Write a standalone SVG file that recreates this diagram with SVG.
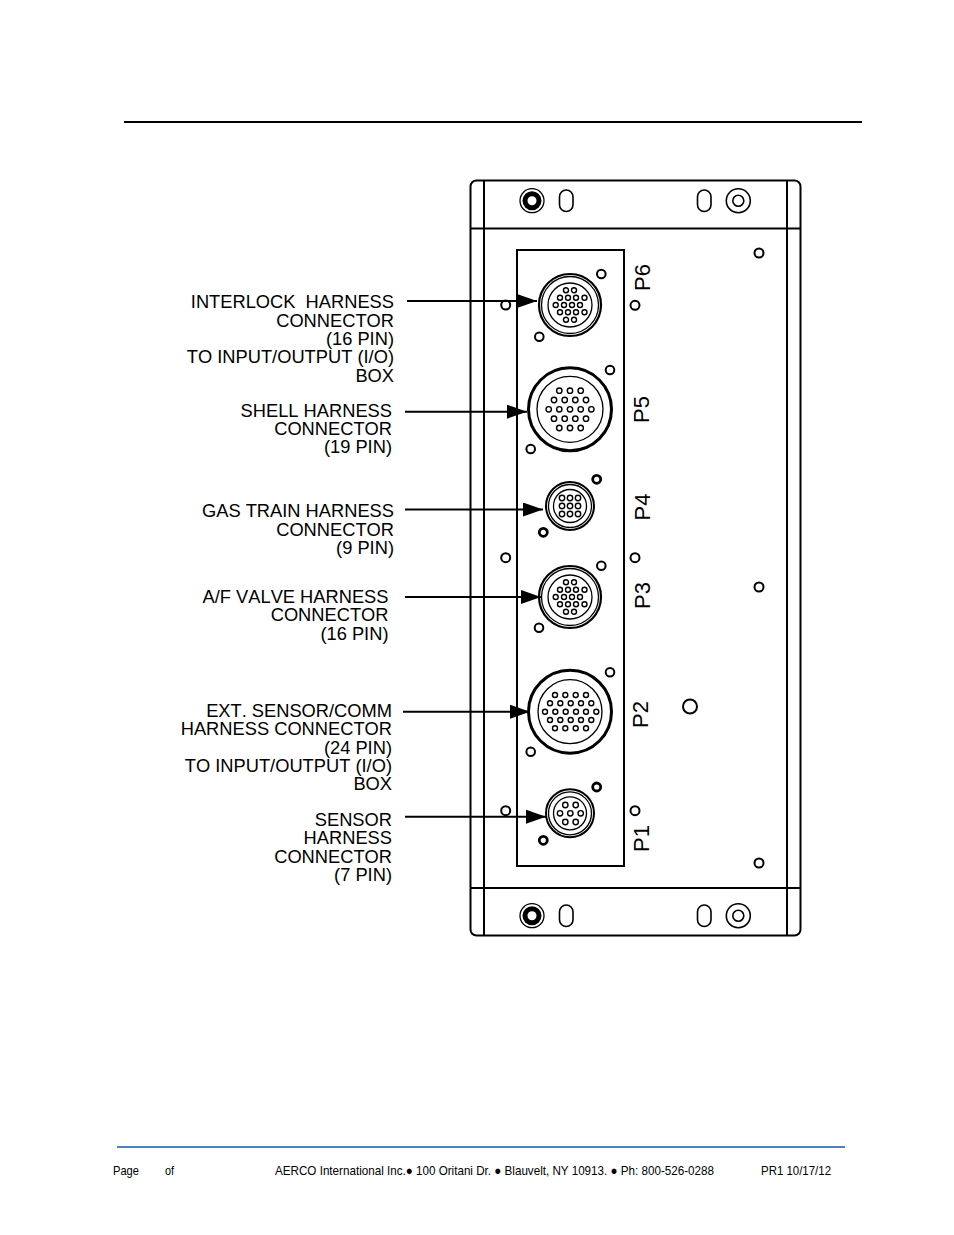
<svg xmlns="http://www.w3.org/2000/svg" width="954" height="1235" viewBox="0 0 954 1235">
<style>
text{font-family:"Liberation Sans",Arial,sans-serif;fill:#000}
.lb{font-size:18.3px;text-anchor:end;font-kerning:none}
.pn{font-size:22px;text-anchor:middle}
.ft{font-size:13px}
.l{fill:none;stroke:#000;stroke-width:2}
.t{fill:none;stroke:#000;stroke-width:1.3}
.h{fill:#fff;stroke:#000;stroke-width:2}
.k{fill:#fff;stroke:#000;stroke-width:2.8}
.p{fill:#fff;stroke:#000;stroke-width:1.4}
.c{stroke:#000;stroke-width:2;fill:none}
</style>
<defs>
<marker id="ah" markerUnits="userSpaceOnUse" markerWidth="20" markerHeight="14" refX="20" refY="7" orient="auto"><path d="M0 0L20 7L0 14Z" fill="#000"/></marker>
<g id="p16">
<g id="r16a"><circle class="p" cx="-4" cy="-14.7" r="2.500"/><circle class="p" cx="4" cy="-14.7" r="2.500"/></g>
<g id="r16b"><circle class="p" cx="-10" cy="-7.3" r="2.500"/><circle class="p" cx="-2" cy="-7.3" r="2.500"/><circle class="p" cx="6" cy="-7.3" r="2.500"/><circle class="p" cx="14.5" cy="-7.3" r="2.500"/></g>
<circle class="p" cx="-14.3" cy="0" r="2.500"/><circle class="p" cx="-6" cy="0" r="2.500"/><circle class="p" cx="2" cy="0" r="2.500"/><circle class="p" cx="10" cy="0" r="2.500"/>
<use href="#r16b" y="14.6"/><use href="#r16a" y="29.4"/>
</g>
<g id="shell16"><circle class="l" r="31" style="stroke-width:2.200"/><circle class="t" r="28.500"/><circle class="t" r="22"/><use href="#p16"/></g>
<g id="shell8"><circle class="l" r="24" style="stroke-width:2"/><circle class="t" r="21.500"/><circle class="t" r="16.500"/></g>
</defs>
<rect width="954" height="1235" fill="#fff"/>
<g id="page">
<line x1="124" y1="122" x2="862" y2="122" stroke="#000" stroke-width="2"/>
<line x1="117" y1="1147" x2="845" y2="1147" stroke="#4f81bd" stroke-width="2"/>
<text class="ft" x="113" y="1175" textLength="26" lengthAdjust="spacingAndGlyphs">Page</text>
<text class="ft" x="165" y="1175" textLength="9" lengthAdjust="spacingAndGlyphs">of</text>
<text class="ft" x="275" y="1175" textLength="439" lengthAdjust="spacingAndGlyphs">AERCO International Inc.● 100 Oritani Dr. ● Blauvelt, NY 10913. ● Ph: 800-526-0288</text>
<text class="ft" x="761" y="1175" textLength="70" lengthAdjust="spacingAndGlyphs">PR1 10/17/12</text>
</g>
<g id="enclosure">
<rect class="l" x="470.500" y="180.500" width="330" height="755" rx="6"/>
<path class="l" d="M484 181V935M787 181V935M471 228.500H800M471 888H800"/>
<rect class="l" x="517" y="250" width="107" height="616"/>
<circle class="t" cx="532" cy="200.700" r="12"/><circle cx="532" cy="200.700" r="9.500" fill="#000"/><circle cx="532" cy="200.700" r="4.500" fill="#fff"/>
<rect class="h" x="559.500" y="190" width="13.500" height="21.500" rx="6.700" style="stroke-width:1.600"/>
<rect class="h" x="697.500" y="190" width="13.500" height="21.500" rx="6.700" style="stroke-width:1.600"/>
<circle class="t" cx="738.300" cy="200.700" r="12" style="stroke-width:1.600"/><circle class="t" cx="738.300" cy="200.700" r="5.500" style="stroke-width:1.600"/>
<circle class="t" cx="532" cy="915.700" r="12"/><circle cx="532" cy="915.700" r="9.500" fill="#000"/><circle cx="532" cy="915.700" r="4.500" fill="#fff"/>
<rect class="h" x="559.500" y="905" width="13.500" height="21.500" rx="6.700" style="stroke-width:1.600"/>
<rect class="h" x="697.500" y="905" width="13.500" height="21.500" rx="6.700" style="stroke-width:1.600"/>
<circle class="t" cx="738.300" cy="915.700" r="12" style="stroke-width:1.600"/><circle class="t" cx="738.300" cy="915.700" r="5.500" style="stroke-width:1.600"/>
<circle class="h" cx="759" cy="253" r="4.500"/><circle class="h" cx="759" cy="587" r="4.500"/><circle class="h" cx="759" cy="863" r="4.500"/><circle class="h" cx="690" cy="706.500" r="7"/>
<circle class="h" cx="505.700" cy="305" r="4.500"/><circle class="h" cx="635" cy="305.300" r="4.500"/>
<circle class="h" cx="505.700" cy="557.700" r="4.500"/><circle class="h" cx="635" cy="557.700" r="4.500"/>
<circle class="h" cx="505.700" cy="810.700" r="4.500"/><circle class="h" cx="635" cy="810.700" r="4.500"/>
</g>
<g id="P6">
<use href="#shell16" x="570" y="305"/>
<circle class="h" cx="601.300" cy="274" r="4.300"/><circle class="h" cx="539.300" cy="336.700" r="4.300"/>
<text class="pn" transform="translate(650 277.500) rotate(-90)">P6</text>
</g>
<g id="P5">
<circle class="l" cx="570" cy="409.300" r="41.500" style="stroke-width:3"/><circle class="t" cx="570" cy="409.300" r="33"/>
<g>
<circle class="p" cx="559.300" cy="390.700" r="2.700"/><circle class="p" cx="570" cy="390.700" r="2.700"/><circle class="p" cx="580.700" cy="390.700" r="2.700"/>
<circle class="p" cx="554" cy="400" r="2.700"/><circle class="p" cx="564.700" cy="400" r="2.700"/><circle class="p" cx="575.300" cy="400" r="2.700"/><circle class="p" cx="586" cy="400" r="2.700"/>
<circle class="p" cx="548.700" cy="409.300" r="2.700"/><circle class="p" cx="559.300" cy="409.300" r="2.700"/><circle class="p" cx="570" cy="409.300" r="2.700"/><circle class="p" cx="580.700" cy="409.300" r="2.700"/><circle class="p" cx="591.300" cy="409.300" r="2.700"/>
<circle class="p" cx="554" cy="418.700" r="2.700"/><circle class="p" cx="564.700" cy="418.700" r="2.700"/><circle class="p" cx="575.300" cy="418.700" r="2.700"/><circle class="p" cx="586" cy="418.700" r="2.700"/>
<circle class="p" cx="559.300" cy="428" r="2.700"/><circle class="p" cx="570" cy="428" r="2.700"/><circle class="p" cx="580.700" cy="428" r="2.700"/>
</g>
<circle class="h" cx="610" cy="370" r="4.300"/><circle class="h" cx="530.700" cy="449" r="4.300"/>
<text class="pn" transform="translate(649 409.500) rotate(-90)">P5</text>
</g>
<g id="P4">
<use href="#shell8" x="570" y="506"/>
<g>
<circle class="p" cx="562" cy="498" r="2.700"/><circle class="p" cx="570" cy="498" r="2.700"/><circle class="p" cx="578" cy="498" r="2.700"/>
<circle class="p" cx="562" cy="506" r="2.700"/><circle class="p" cx="570" cy="506" r="2.700"/><circle class="p" cx="578" cy="506" r="2.700"/>
<circle class="p" cx="562" cy="514" r="2.700"/><circle class="p" cx="570" cy="514" r="2.700"/><circle class="p" cx="578" cy="514" r="2.700"/>
</g>
<circle class="k" cx="596.700" cy="479.300" r="4"/><circle class="k" cx="543.300" cy="532.300" r="4"/>
<text class="pn" transform="translate(650 507) rotate(-90)">P4</text>
</g>
<g id="P3">
<use href="#shell16" x="570" y="597"/>
<circle class="h" cx="601.300" cy="565.700" r="4.300"/><circle class="h" cx="539" cy="627.700" r="4.300"/>
<text class="pn" transform="translate(649.500 595.500) rotate(-90)">P3</text>
</g>
<g id="P2">
<circle class="l" cx="570" cy="711.700" r="41.500" style="stroke-width:3"/><circle class="t" cx="570" cy="711.700" r="32"/>
<g>
<circle class="p" cx="555" cy="695" r="2.500"/><circle class="p" cx="565.300" cy="695" r="2.500"/><circle class="p" cx="575.700" cy="695" r="2.500"/><circle class="p" cx="586" cy="695" r="2.500"/>
<circle class="p" cx="550" cy="703.300" r="2.500"/><circle class="p" cx="560.300" cy="703.300" r="2.500"/><circle class="p" cx="570.700" cy="703.300" r="2.500"/><circle class="p" cx="581" cy="703.300" r="2.500"/><circle class="p" cx="591.300" cy="703.300" r="2.500"/>
<circle class="p" cx="545" cy="711.700" r="2.500"/><circle class="p" cx="555.300" cy="711.700" r="2.500"/><circle class="p" cx="565.700" cy="711.700" r="2.500"/><circle class="p" cx="576" cy="711.700" r="2.500"/><circle class="p" cx="586" cy="711.700" r="2.500"/><circle class="p" cx="596.300" cy="711.700" r="2.500"/>
<circle class="p" cx="550" cy="720" r="2.500"/><circle class="p" cx="560.300" cy="720" r="2.500"/><circle class="p" cx="570.700" cy="720" r="2.500"/><circle class="p" cx="581" cy="720" r="2.500"/><circle class="p" cx="591.300" cy="720" r="2.500"/>
<circle class="p" cx="555" cy="728.300" r="2.500"/><circle class="p" cx="565.300" cy="728.300" r="2.500"/><circle class="p" cx="575.700" cy="728.300" r="2.500"/><circle class="p" cx="586" cy="728.300" r="2.500"/>
</g>
<circle class="h" cx="610" cy="672.300" r="4.300"/><circle class="h" cx="530.700" cy="751.700" r="4.300"/>
<text class="pn" transform="translate(648 714.500) rotate(-90)">P2</text>
</g>
<g id="P1">
<use href="#shell8" x="570" y="813.300"/>
<g>
<circle class="p" cx="565.300" cy="805" r="2.700"/><circle class="p" cx="575.700" cy="805" r="2.700"/>
<circle class="p" cx="560" cy="813.300" r="2.700"/><circle class="p" cx="570.300" cy="813.300" r="2.700"/><circle class="p" cx="580.700" cy="813.300" r="2.700"/>
<circle class="p" cx="565.300" cy="822" r="2.700"/><circle class="p" cx="575.700" cy="822" r="2.700"/>
</g>
<circle class="k" cx="596.700" cy="787" r="4"/><circle class="k" cx="543.300" cy="840.300" r="4"/>
<text class="pn" transform="translate(649 838.500) rotate(-90)">P1</text>
</g>
<g id="connectors">
<line class="c" x1="407" y1="301" x2="537" y2="301" marker-end="url(#ah)"/>
<line class="c" x1="405" y1="411.700" x2="527" y2="411.700" marker-end="url(#ah)"/>
<line class="c" x1="405" y1="509.500" x2="543" y2="509.500" marker-end="url(#ah)"/>
<line class="c" x1="405" y1="597" x2="541" y2="597" marker-end="url(#ah)"/>
<line class="c" x1="403" y1="711.700" x2="530" y2="711.700" marker-end="url(#ah)"/>
<line class="c" x1="405" y1="816.700" x2="546" y2="816.700" marker-end="url(#ah)"/>
</g>
<g id="label-interlock">
<text class="lb" x="394" y="308" xml:space="preserve">INTERLOCK  HARNESS</text>
<text class="lb" x="394" y="327">CONNECTOR</text>
<text class="lb" x="394" y="345">(16 PIN)</text>
<text class="lb" x="394" y="363">TO INPUT/OUTPUT (I/O)</text>
<text class="lb" x="394" y="382">BOX</text>
</g>
<g id="label-shell">
<text class="lb" x="392" y="417">SHELL HARNESS</text>
<text class="lb" x="392" y="435">CONNECTOR</text>
<text class="lb" x="392" y="453">(19 PIN)</text>
</g>
<g id="label-gas">
<text class="lb" x="394" y="517">GAS TRAIN HARNESS</text>
<text class="lb" x="394" y="536">CONNECTOR</text>
<text class="lb" x="394" y="554">(9 PIN)</text>
</g>
<g id="label-af">
<text class="lb" x="388.500" y="603">A/F VALVE HARNESS</text>
<text class="lb" x="388.500" y="621">CONNECTOR</text>
<text class="lb" x="388.500" y="640">(16 PIN)</text>
</g>
<g id="label-ext">
<text class="lb" x="392" y="717">EXT. SENSOR/COMM</text>
<text class="lb" x="392" y="735">HARNESS CONNECTOR</text>
<text class="lb" x="392" y="754">(24 PIN)</text>
<text class="lb" x="392" y="772">TO INPUT/OUTPUT (I/O)</text>
<text class="lb" x="392" y="790">BOX</text>
</g>
<g id="label-sensor">
<text class="lb" x="392" y="826">SENSOR</text>
<text class="lb" x="392" y="844">HARNESS</text>
<text class="lb" x="392" y="863">CONNECTOR</text>
<text class="lb" x="392" y="881">(7 PIN)</text>
</g>
</svg>
